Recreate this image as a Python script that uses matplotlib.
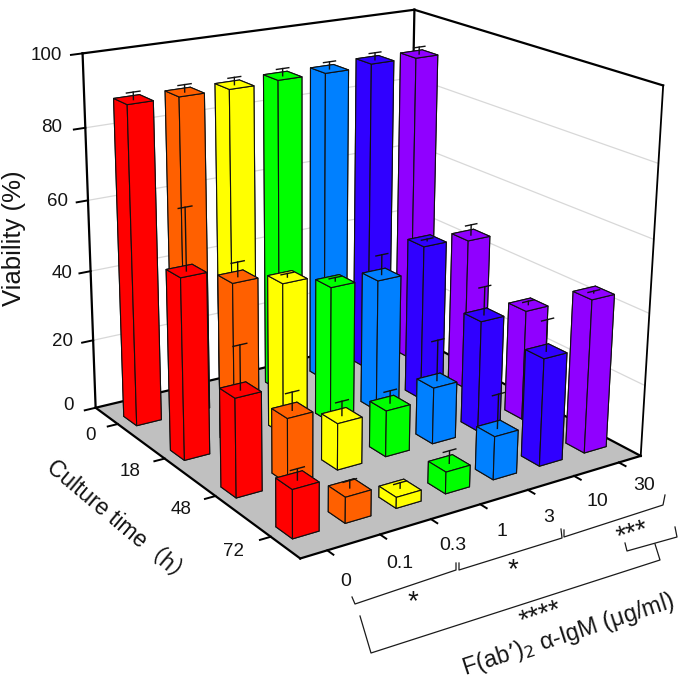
import matplotlib
matplotlib.use('Agg')
import matplotlib.pyplot as plt
from matplotlib.lines import Line2D
import numpy as np

plt.rcParams['font.family'] = ['Liberation Sans', 'Noto Sans CJK SC', 'DejaVu Sans']

conc_labels = ['0', '0.1', '0.3', '1', '3', '10', '30']
time_labels = ['0', '18', '48', '72']
z_ticks = [0, 20, 40, 60, 80, 100]
colors = ['#ff0000', '#ff6000', '#ffff00', '#00ff00', '#0080ff', '#3000ff', '#9000ff']

# viability per culture time, one value per concentration
viab_0h = [89.5, 89.5, 89.5, 90, 90, 90.7, 90.5]
viab_18h = [50.4, 46, 43, 39, 38, 45, 44]
viab_48h = [27, 18, 13, 13, 16, 31.6, 31.5]
viab_72h = [13, 7, 3, 6, 12, 30, 43]
err_0h = [2, 2, 2, 2, 2, 2, 2]
err_18h = [17, 4, 1, 1, 5.7, 0.5, 3]
err_48h = [12, 5, 4, 3.5, 11.5, 8, 1]
err_72h = [3, 2, 1.5, 3.5, 9.5, 8.7, 0.5]
viab = [viab_0h, viab_18h, viab_48h, viab_72h]
errs = [err_0h, err_18h, err_48h, err_72h]

fig = plt.figure(figsize=(6.85, 6.82), dpi=100)
ax = fig.add_axes([13 / 685, 76 / 682, 682 / 685, 1.0], projection='3d')
ax.set_proj_type('persp', focal_length=0.536)
ax.view_init(elev=18.9, azim=-124.2, roll=-0.6)
ax.set_xlim(0, 7, view_margin=0)
ax.set_ylim(0, 4, view_margin=0)
ax.set_zlim(0, 100, view_margin=0)
ax.set_box_aspect((1, 1, 0.945), zoom=0.98)
ax.set_axis_off()
ax.computed_zorder = False
ax.patch.set_alpha(0)

# floor
xx, yy = np.meshgrid([0, 7], [0, 4])
ax.plot_surface(xx, yy, np.zeros_like(xx), color='#c0c0c0', shade=False, linewidth=0, zorder=1)

# wall gridlines
for z in z_ticks[1:-1]:
    ax.plot([0, 7], [4, 4], [z, z], color='#d8d8d8', lw=0.9, zorder=2)
    ax.plot([7, 7], [4, 0], [z, z], color='#d8d8d8', lw=0.9, zorder=2)

# frame
frame = dict(color='black', lw=1.6, zorder=3, solid_capstyle='projecting')
ax.plot([0, 0], [4, 4], [0, 100], **frame)
ax.plot([7, 7], [4, 4], [0, 100], **frame)
ax.plot([7, 7], [0, 0], [0, 100], color='black', lw=1.3, zorder=3)
ax.plot([0, 7], [4, 4], [100, 100], **frame)
ax.plot([7, 7], [4, 0], [100, 100], **frame)
ax.plot([0, 7], [4, 4], [0, 0], **frame)
ax.plot([7, 7], [4, 0], [0, 0], **frame)
ax.plot([0, 7], [0, 0], [0, 0], **frame)
ax.plot([0, 0], [0, 4], [0, 0], **frame)

# ticks
for z in z_ticks:
    ax.plot([-0.22, 0], [4, 4], [z, z], color='black', lw=1.4, zorder=3)
for i in range(len(conc_labels)):
    ax.plot([i + 0.5, i + 0.5], [-0.1, 0], [0, 0], color='black', lw=1.4, zorder=3)
for j in range(len(time_labels)):
    ax.plot([-0.2, 0], [3.5 - j, 3.5 - j], [0, 0], color='black', lw=1.4, zorder=3)

# bars, back row first and far bars first
bar_dx = 0.5
bar_dy = 0.285
order = 10
for j in range(len(time_labels)):
    yc = 3.5 - j
    for i in reversed(range(len(conc_labels))):
        xc = i + 0.5
        top = viab[j][i]
        ax.bar3d(xc - bar_dx / 2, yc - bar_dy / 2, 0, bar_dx, bar_dy, top,
                 color=colors[i], edgecolor='#101010', linewidth=0.8, shade=False, zorder=order)
        end = top + errs[j][i]
        ax.plot([xc, xc], [yc, yc], [top, end], color='#101010', lw=1.0, zorder=order + 1)
        ax.plot([xc - 0.13, xc + 0.13], [yc, yc], [end, end], color='#101010', lw=1.0, zorder=order + 1)
        order += 2


def px_text(x, y, s, **kw):
    fig.text(x / 685, 1 - y / 682, s, ha='center', va='center', color='#141414', **kw)


z_pos = [(68, 405), (62, 341), (62, 273), (57, 202), (52, 128), (46, 55)]
for z, (x, y) in zip(z_ticks, z_pos):
    px_text(x, y, str(z), fontsize=13.5)
time_pos = [(90, 436), (130, 472), (181, 509), (234, 551)]
for s, (x, y) in zip(time_labels, time_pos):
    px_text(x, y, s, fontsize=13.5)
conc_pos = [(346, 582), (400, 563), (453, 546), (502, 531), (549, 517), (597, 502), (644, 486)]
for s, (x, y) in zip(conc_labels, conc_pos):
    px_text(x, y, s, fontsize=14)

px_text(14, 238, 'Viability (%)', fontsize=18.5, rotation=90)
px_text(119, 523, 'Culture time（h）', fontsize=16.5, rotation=-40, rotation_mode='anchor')
px_text(568, 635, "F(ab’)$_2$ α-IgM (μg/ml)", fontsize=16.8, rotation=18, rotation_mode='anchor')
px_text(413, 602, '*', fontsize=20)
px_text(513, 570, '*', fontsize=20)
px_text(633, 533, '***', fontsize=20, rotation=17, rotation_mode='anchor')
px_text(541, 615, '****', fontsize=20, rotation=18, rotation_mode='anchor')

brackets = [
    [(352, 597), (355, 604), (456, 570), (456, 563)],
    [(459, 563), (459, 570), (562, 538), (561, 529)],
    [(564, 530), (564, 537), (663, 505), (665, 495)],
    [(625, 543), (627, 551), (677, 537), (675, 527)],
    [(360, 616), (371, 653), (660, 560), (655, 544)],
]
for b in brackets:
    xs = [p[0] / 685 for p in b]
    ys = [1 - p[1] / 682 for p in b]
    fig.add_artist(Line2D(xs, ys, color='#1a1a1a', lw=0.9))

fig.savefig('out.png', dpi=100)
